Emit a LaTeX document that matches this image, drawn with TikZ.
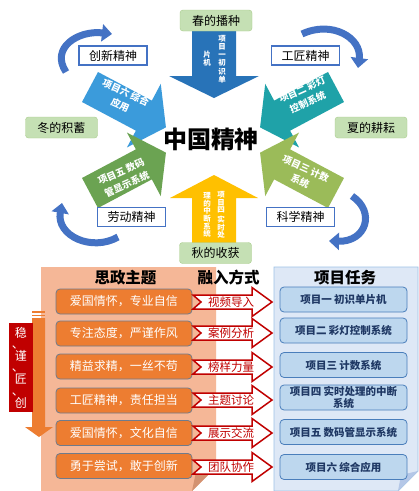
\documentclass[tikz,border=0pt]{standalone}
\usepackage{fontspec}
\setmainfont{Noto Sans CJK SC}
\usetikzlibrary{arrows.meta}
\newcommand\myfs[2]{\fontsize{#1}{#2}\selectfont}
\newcommand\blockarrow[7]{\fill[#7,shift={(#1)},rotate=#2] (0,-#4) -- ({#3-#6},-#4) -- ({#3-#6},-#5) -- (#3,0) -- ({#3-#6},#5) -- ({#3-#6},#4) -- (0,#4) -- cycle;}
\newcommand\redarrow[3]{\draw[darkRed, line width=1.5pt, fill=white, line join=miter] (193,#2-7) -- (252,#2-7) -- (252,#2-14.5) -- (272,#2) -- (252,#2+14.5) -- (252,#2+7) -- (193,#2+7) -- (201,#2) -- cycle; \node[rtxt] (#1) at (231,#2) {#3};}
\definecolor{cTop}{HTML}{2873B8}
\definecolor{cUL}{HTML}{3B9BDB}
\definecolor{cUR}{HTML}{1FA2A8}
\definecolor{cLR}{HTML}{9BBB59}
\definecolor{cBot}{HTML}{FFC000}
\definecolor{cLL}{HTML}{6BA352}
\definecolor{cCurve}{HTML}{4472C4}
\definecolor{seasonFill}{HTML}{C5E0B4}
\definecolor{seasonLine}{HTML}{A9CD8C}
\definecolor{salmon}{HTML}{F5B797}
\definecolor{salmonDark}{HTML}{D39271}
\definecolor{orangeBox}{HTML}{ED7D31}
\definecolor{orangeLine}{HTML}{6F7B8C}
\definecolor{darkRed}{HTML}{C00000}
\definecolor{panelBlue}{HTML}{DEE8F6}
\definecolor{panelLine}{HTML}{9DC3E6}
\definecolor{panelFold}{HTML}{B4C7E7}
\definecolor{boxBlue}{HTML}{BDD7EE}
\definecolor{boxLine}{HTML}{4A7EBB}
\definecolor{navy}{HTML}{1F3864}
\begin{document}
\begin{tikzpicture}[x=1pt,y=-1pt,
  season/.style={draw=seasonLine, fill=seasonFill, rounded corners=3pt, minimum width=72pt, minimum height=21pt, inner sep=0pt, font=\myfs{12}{14}},
  spirit/.style={draw=cCurve, line width=1.2pt, fill=white, minimum width=68pt, minimum height=19pt, inner sep=0pt, font=\myfs{12}{14}},
  curve/.style={cCurve, line width=7pt, -{Triangle[width=17pt,length=10pt]}},
  atext/.style={text=white, font=\myfs{9.5}{14}\bfseries, align=center, inner sep=0pt},
  vtext/.style={text=white, font=\myfs{7.5}{8.2}\bfseries, align=center, inner sep=0pt},
  hdr/.style={font=\myfs{15.5}{17}\bfseries, inner sep=0pt},
  obox/.style={fill=orangeBox, draw=orangeLine, line width=0.8pt, rounded corners=4pt, minimum width=136pt, minimum height=25pt, inner sep=0pt, text=white, font=\myfs{12}{14}},
  bbox/.style={fill=boxBlue, draw=boxLine, line width=0.8pt, rounded corners=4pt, minimum width=127pt, minimum height=25pt, inner sep=0pt, text=navy, font=\myfs{10.5}{11.5}\bfseries, align=center},
  rtxt/.style={text=darkRed, font=\myfs{11.5}{13}, inner sep=0pt},
  wchar/.style={text=white, font=\myfs{12}{12}, inner sep=0pt}]
\useasboundingbox (0,0) rectangle (419,491);
\fill[white] (0,0) rectangle (419,491);

% block arrows
\blockarrow{214,30}{-90}{68}{22}{45}{22}{cTop}
\blockarrow{214,245}{90}{70}{22}{44}{23}{cBot}
\blockarrow{90,87}{-28}{86}{17}{36}{25}{cUL}
\blockarrow{336,87}{208}{86}{17}{36}{25}{cUR}
\blockarrow{90,193}{28}{86}{17}{36}{25}{cLL}
\blockarrow{336,193}{152}{86}{17}{36}{25}{cLR}

\node[vtext] (t1a) at (222,59) {项\\目\\一\\初\\识\\单};
\node[vtext] (t1b) at (207,59) {片\\机};
\node[vtext, font=\myfs{7.5}{7.6}\bfseries] (t4a) at (221,215) {项\\目\\四\\[2pt]实\\时\\处};
\node[vtext, font=\myfs{7.5}{7.6}\bfseries] (t4b) at (207,215) {理\\的\\中\\断\\系\\统};
\node[atext, rotate=-24] (t6) at (123,99) {项目六 综合\\应用};
\node[atext, rotate=24] (t2) at (305,96) {项目二 彩灯\\控制系统};
\node[atext, rotate=-24] (t3) at (303,175) {项目三 计数\\系统};
\node[atext, rotate=24] (t5) at (124,178) {项目五 数码\\管显示系统};

\node[font=\myfs{24}{26}\bfseries, inner sep=0pt] (title) at (211,139) {中国精神};

% curved arrows
\coordinate (c1s) at (66,72); \coordinate (c1e) at (112,34);
\draw[curve] (c1s) .. controls (50,48) and (78,30) .. (c1e);
\coordinate (c2s) at (302,34); \coordinate (c2e) at (358,68);
\draw[curve] (c2s) .. controls (332,20) and (362,38) .. (c2e);
\coordinate (c3s) at (118,237); \coordinate (c3e) at (62,203);
\draw[curve] (c3s) .. controls (92,252) and (56,236) .. (c3e);
\coordinate (c4s) at (352,196); \coordinate (c4e) at (329,241);
\draw[curve] (c4s) .. controls (376,212) and (366,242) .. (c4e);

\node[season] (spring) at (216,20.5) {春的播种};
\node[season] (winter) at (61.5,127.5) {冬的积蓄};
\node[season] (summer) at (371,127.5) {夏的耕耘};
\node[season] (autumn) at (215.5,253) {秋的收获};
\node[spirit] (s1) at (113,55.5) {创新精神};
\node[spirit] (s2) at (305.5,55.5) {工匠精神};
\node[spirit] (s3) at (131.5,217) {劳动精神};
\node[spirit] (s4) at (300.5,217) {科学精神};

% bottom panels
\fill[salmon] (41,267) -- (216,267) -- (216,467) -- (192,491) -- (41,491) -- cycle;
\fill[salmonDark] (192,491) -- (216,467) -- (196,472) -- cycle;
\filldraw[fill=panelBlue, draw=panelLine, line width=0.8pt] (274,267) -- (418,267) -- (418,471) -- (398,491) -- (274,491) -- cycle;
\fill[panelFold] (398,491) -- (418,471) -- (401,475) -- cycle;

\node[hdr] (h1) at (125.5,278) {思政主题};
\node[hdr] (h2) at (228.5,278) {融入方式};
\node[hdr] (h3) at (345,278) {项目任务};

% left down arrow
\fill[orangeBox] (32,311) rectangle (45,312.5);
\fill[orangeBox] (32,314.5) rectangle (45,316);
\fill[orangeBox] (32,318) -- (45,318) -- (45,427) -- (53,427) -- (39,437) -- (25,427) -- (32,427) -- cycle;
\node[fill=darkRed, minimum width=24pt, minimum height=89pt, inner sep=0pt] (wjjc) at (21,367.5) {};
\node[wchar] (w1) at (21,333) {稳};
\node[wchar] (d1) at (18,347) {、};
\node[wchar] (w2) at (21,356) {谨};
\node[wchar] (d2) at (18,370) {、};
\node[wchar] (w3) at (21,379) {匠};
\node[wchar] (d3) at (18,394) {、};
\node[wchar] (w4) at (21,403) {创};

\node[obox] (o1) at (124,301.5) {爱国情怀，专业自信};
\node[obox] (o2) at (124,333.5) {专注态度，严谨作风};
\node[obox] (o3) at (124,366.5) {精益求精，一丝不苟};
\node[obox] (o4) at (124,400.5) {工匠精神，责任担当};
\node[obox] (o5) at (124,433) {爱国情怀，文化自信};
\node[obox] (o6) at (124,466) {勇于尝试，敢于创新};

\redarrow{r1}{302}{视频导入}
\redarrow{r2}{333}{案例分析}
\redarrow{r3}{367}{榜样力量}
\redarrow{r4}{400}{主题讨论}
\redarrow{r5}{433}{展示交流}
\redarrow{r6}{467}{团队协作}

\node[bbox] (p1) at (343.5,299.5) {项目一 初识单片机};
\node[bbox] (p2) at (343.5,330.5) {项目二 彩灯控制系统};
\node[bbox] (p3) at (343.5,365) {项目三 计数系统};
\node[bbox] (p4) at (343.5,397.5) {项目四 实时处理的中断\\系统};
\node[bbox] (p5) at (343.5,432) {项目五 数码管显示系统};
\node[bbox] (p6) at (343.5,467) {项目六 综合应用};
\end{tikzpicture}
\end{document}
